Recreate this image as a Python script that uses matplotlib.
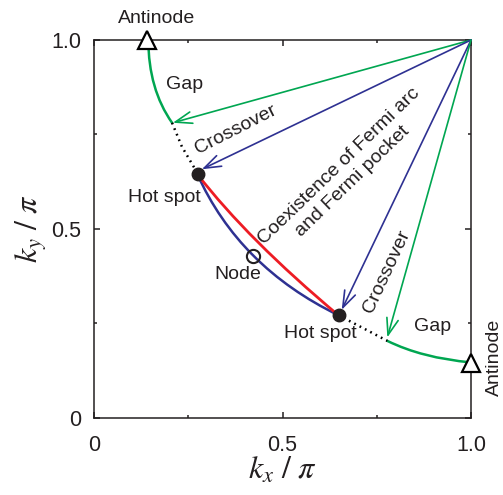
import matplotlib
matplotlib.use("Agg")
import matplotlib.pyplot as plt
from matplotlib.path import Path
from matplotlib.patches import PathPatch
from matplotlib.ticker import MultipleLocator, FuncFormatter

plt.rcParams["font.family"] = ["Liberation Sans", "DejaVu Sans"]
plt.rcParams["mathtext.fontset"] = "stix"

# colours
GREEN = "#00a651"
BLUE = "#2e3192"
RED = "#ed1c24"
INK = "#231f20"

# Fermi surface pieces (kx/pi, ky/pi):
# start point, control point, end point of each quadratic curve
gap_top_x = [0.144, 0.1445, 0.207]
gap_top_y = [1.0, 0.8695, 0.781]
pocket_x = [0.274, 0.385, 0.648]
pocket_y = [0.645, 0.3995, 0.272]
arc_x = [0.274, 0.409, 0.648]
arc_y = [0.645, 0.4715, 0.272]
gap_bot_x = [0.778, 0.871, 1.0]
gap_bot_y = [0.204, 0.1585, 0.147]
# dotted (crossover) pieces
dot_top_x = [0.207, 0.233, 0.276]
dot_top_y = [0.781, 0.718, 0.645]
dot_bot_x = [0.648, 0.719, 0.778]
dot_bot_y = [0.272, 0.235, 0.204]

# special points
antinode_x = [0.141, 1.0]
antinode_y = [1.0, 0.146]
hotspot_x = [0.276, 0.650]
hotspot_y = [0.645, 0.272]
node_x = [0.423]
node_y = [0.429]

# arrows from (pi, pi)
arrow_from = (1.0, 1.0)
arrow_tip_x = [0.209, 0.286, 0.657, 0.778]
arrow_tip_y = [0.781, 0.658, 0.286, 0.213]
arrow_colors = [GREEN, BLUE, BLUE, GREEN]


def curve(ax, xs, ys, color, lw):
    verts = list(zip(xs, ys))
    path = Path(verts, [Path.MOVETO, Path.CURVE3, Path.CURVE3])
    ax.add_patch(PathPatch(path, fill=False, edgecolor=color, lw=lw,
                           capstyle="round", clip_on=False))


fig = plt.figure(figsize=(5.03, 4.95), dpi=100)
ax = fig.add_axes([0.1869, 0.1556, 0.7495, 0.7636])

curve(ax, gap_top_x, gap_top_y, GREEN, 1.8)
curve(ax, gap_bot_x, gap_bot_y, GREEN, 1.8)
curve(ax, pocket_x, pocket_y, BLUE, 1.8)
curve(ax, arc_x, arc_y, RED, 2.0)
ax.plot(dot_top_x, dot_top_y, color="black", lw=1.8, ls=(0, (0.7, 1.7)))
ax.plot(dot_bot_x, dot_bot_y, color="black", lw=1.8, ls=(0, (0.7, 1.7)))

for tx, ty, c in zip(arrow_tip_x, arrow_tip_y, arrow_colors):
    ax.annotate("", xy=(tx, ty), xytext=arrow_from,
                arrowprops=dict(arrowstyle="->,head_length=1.2,head_width=0.42",
                                color=c, lw=1.2, shrinkA=0, shrinkB=0))

ax.plot(antinode_x, antinode_y, "^", ms=13, mfc="white", mec="black", mew=1.6,
        clip_on=False, zorder=5)
ax.plot(hotspot_x, hotspot_y, "o", ms=9, color=INK, zorder=5)
ax.plot(node_x, node_y, "o", ms=9.5, mfc="none", mec=INK, mew=1.5, zorder=5)

fs = 14
ax.text(0.166, 1.058, "Antinode", fontsize=fs, color=INK, ha="center", va="center")
ax.text(0.239, 0.881, "Gap", fontsize=fs, color=INK, ha="center", va="center")
ax.text(0.376, 0.762, "Crossover", fontsize=fs, color=INK, ha="center", va="center",
        rotation=27, rotation_mode="anchor")
ax.text(0.668, 0.646, "Coexistence of Fermi arc\nand Fermi pocket", fontsize=fs,
        color=INK, ha="center", va="center", rotation=44, rotation_mode="anchor",
        multialignment="center", linespacing=1.25)
ax.text(0.186, 0.584, "Hot spot", fontsize=fs, color=INK, ha="center", va="center")
ax.text(0.382, 0.380, "Node", fontsize=fs, color=INK, ha="center", va="center")
ax.text(0.600, 0.223, "Hot spot", fontsize=fs, color=INK, ha="center", va="center")
ax.text(0.777, 0.386, "Crossover", fontsize=fs, color=INK, ha="center", va="center",
        rotation=65, rotation_mode="anchor")
ax.text(0.897, 0.241, "Gap", fontsize=fs, color=INK, ha="center", va="center")
ax.text(1.063, 0.161, "Antinode", fontsize=fs, color=INK, ha="center", va="center",
        rotation=90, clip_on=False)

ax.set_xlim(0, 1)
ax.set_ylim(0, 1)
ax.xaxis.set_major_locator(MultipleLocator(0.5))
ax.yaxis.set_major_locator(MultipleLocator(0.5))
ax.xaxis.set_minor_locator(MultipleLocator(0.25))
ax.yaxis.set_minor_locator(MultipleLocator(0.25))
fmt = FuncFormatter(lambda v, p: "0" if v == 0 else f"{v:.1f}")
ax.xaxis.set_major_formatter(fmt)
ax.yaxis.set_major_formatter(fmt)
ax.tick_params(which="both", direction="in", top=True, right=True, width=1.1,
               labelsize=15.5, colors=INK)
ax.tick_params(which="major", length=4.5)
ax.tick_params(which="minor", length=2.5)
ax.tick_params(axis="x", pad=12)
ax.tick_params(axis="y", pad=9)
for s in ax.spines.values():
    s.set_linewidth(1.1)
    s.set_color(INK)

ax.set_xlabel(r"$k_x\ /\ \pi$", fontsize=23, color=INK, labelpad=0)
ax.set_ylabel(r"$k_y\ /\ \pi$", fontsize=23, color=INK, labelpad=2)

fig.savefig("out.png", dpi=100)
